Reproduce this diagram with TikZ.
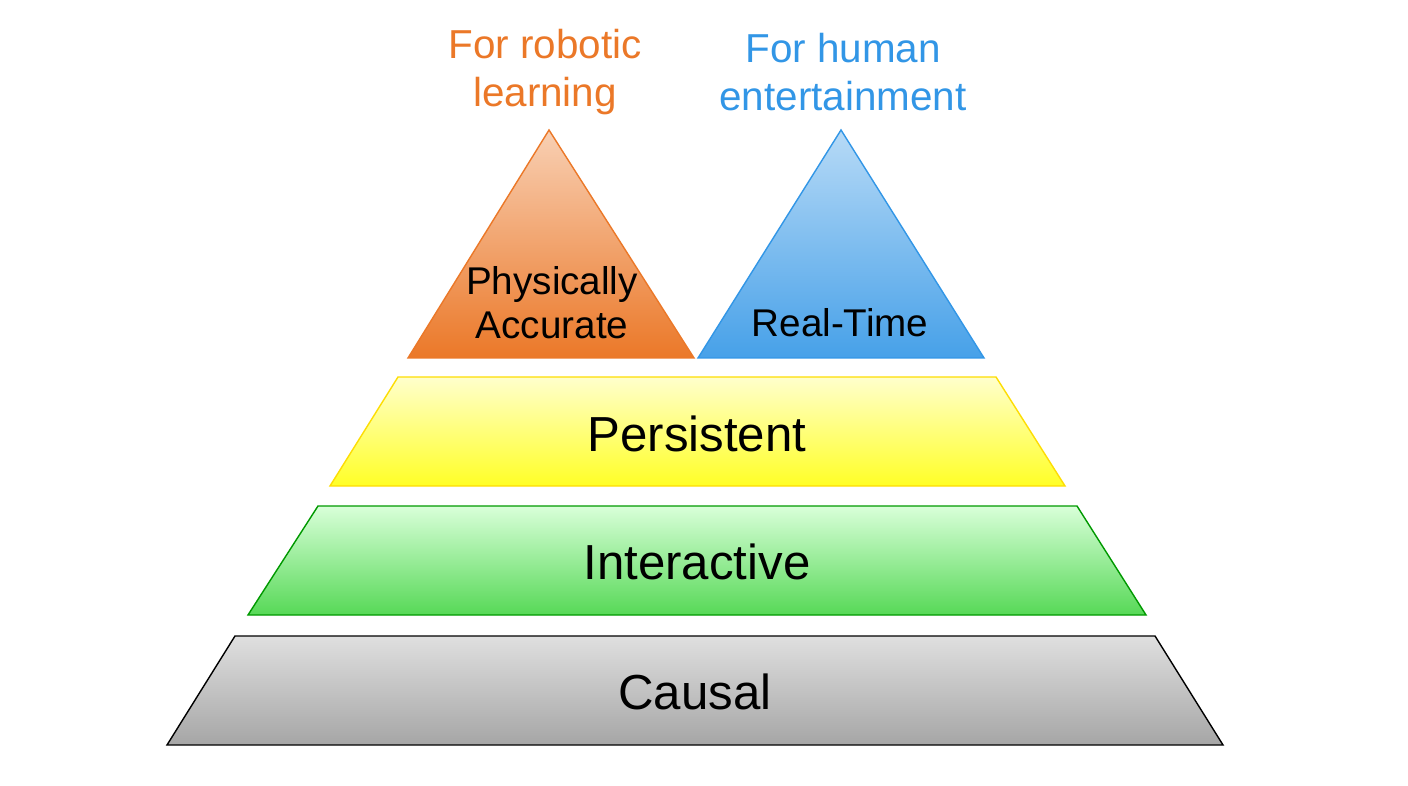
\documentclass[tikz,border=0pt]{standalone}
\usepackage{fontspec}
\setmainfont{Liberation Sans}
\definecolor{robot}{RGB}{235,120,40}
\definecolor{human}{RGB}{50,150,230}
\begin{document}
\begin{tikzpicture}[x=0.02cm,y=-0.02cm,
  layer/.style={line width=0.8pt},
  label/.style={font=\fontsize{28}{32}\selectfont},
  small/.style={font=\fontsize{22}{25}\selectfont,align=center},
  head/.style={font=\fontsize{23}{27.5}\selectfont,align=center}]
\useasboundingbox (0,0) rectangle (1408,786);
% layers of the pyramid
\draw[layer,black,top color=gray!25,bottom color=gray!70] (167,745) -- (1223,745) -- (1155,636) -- (235,636) -- cycle;
\draw[layer,green!60!black,top color=green!15!white,bottom color=green!60!white!85!black] (248,615) -- (1146,615) -- (1077,506) -- (318,506) -- cycle;
\draw[layer,yellow!80!orange,top color=yellow!20,bottom color=yellow!85!white] (330,486) -- (1065,486) -- (996,377) -- (398,377) -- cycle;
\node[label] (causal) at (695,692) {Causal};
\node[label] (interactive) at (697,562) {Interactive};
\node[label] (persistent) at (697,434) {Persistent};
% the two peaks
\draw[layer,robot,top color=robot!35!white,bottom color=robot] (549,130) -- (694,358) -- (408,358) -- cycle;
\draw[layer,human,top color=human!35!white,bottom color=human!90!white] (841,130) -- (984,358) -- (698,358) -- cycle;
\node[small] (accurate) at (552,303) {Physically\\Accurate};
\node[small] (realtime) at (840,323) {Real-Time};
\node[head,robot] (robotic) at (545,72) {For robotic\\learning};
\node[head,human] (entertain) at (843,72) {For human\\entertainment};
\end{tikzpicture}
\end{document}
